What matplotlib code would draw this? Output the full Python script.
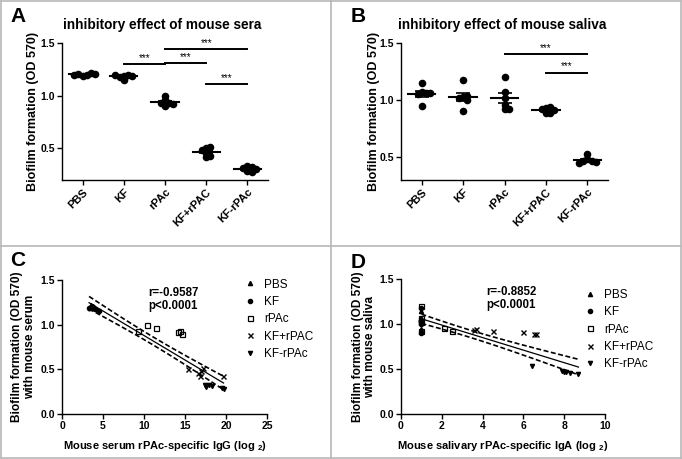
import numpy as np
import matplotlib
matplotlib.use("Agg")
import matplotlib.pyplot as plt
from matplotlib.lines import Line2D

plt.rcParams['font.family'] = ['Liberation Sans', 'DejaVu Sans']
plt.rcParams['font.weight'] = 'bold'
plt.rcParams['axes.titleweight'] = 'bold'
plt.rcParams['axes.labelweight'] = 'bold'
plt.rcParams['mathtext.default'] = 'regular'

W, H = 682, 459

# --- dane ---
grupy = ["PBS", "KF", "rPAc", "KF+rPAC", "KF-rPAc"]

# A: biofilm z surowica
sera_od = [
    [1.19, 1.20, 1.21, 1.22, 1.20, 1.21],
    [1.19, 1.20, 1.15, 1.18, 1.19, 1.20],
    [1.00, 0.96, 0.93, 0.93, 0.90, 0.92],
    [0.50, 0.51, 0.48, 0.46, 0.42, 0.43],
    [0.33, 0.32, 0.31, 0.30, 0.29, 0.28],
]
sera_sig = [(1, 2, 1.30), (2, 3, 1.31), (2, 4, 1.44), (3, 4, 1.11)]

# B: biofilm ze slina
saliva_od = [
    [1.15, 1.07, 1.06, 1.05, 1.06, 0.95],
    [1.18, 1.03, 1.00, 1.04, 1.02, 0.90],
    [1.20, 1.07, 1.02, 0.96, 0.92, 0.92],
    [0.93, 0.94, 0.92, 0.91, 0.89, 0.89],
    [0.53, 0.48, 0.47, 0.47, 0.46, 0.45],
]
saliva_sig = [(2, 4, 1.40), (3, 4, 1.24)]

# C: IgG w surowicy (log2), te same myszy co w A
serum_igg = [
    [3.4, 3.6, 3.8, 3.5, 3.9, 3.7],
    [3.3, 3.6, 4.5, 4.0, 3.8, 3.5],
    [10.4, 11.5, 9.3, 14.4, 14.6, 14.2],
    [15.4, 17.2, 16.9, 16.6, 16.8, 19.6],
    [17.9, 17.4, 18.3, 17.6, 19.5, 19.7],
]
serum_r = "r=-0.9587\np<0.0001"

# D: IgA w slinie (log2), te same myszy co w B
saliva_iga = [
    [1.0, 1.0, 1.0, 1.0, 1.0, 1.0],
    [1.0, 1.0, 1.0, 1.0, 1.0, 1.0],
    [1.0, 1.0, 1.0, 2.1, 2.5, 1.0],
    [3.6, 3.7, 4.5, 6.0, 6.5, 6.6],
    [6.4, 7.9, 8.0, 8.1, 8.3, 8.7],
]
saliva_r = "r=-0.8852\np<0.0001"

markery = ['^', 'o', 's', 'x', 'v']


def px_axes(l, t, r, b):
    return [l / W, 1 - b / H, (r - l) / W, (b - t) / H]


def styl(ax):
    for s in ['top', 'right']:
        ax.spines[s].set_visible(False)
    for s in ['left', 'bottom']:
        ax.spines[s].set_linewidth(1.0)
    ax.tick_params(direction='out', length=3.5, width=1.0, labelsize=7.5, pad=1.5)


def pogrub(ax):
    for t in ax.get_xticklabels() + ax.get_yticklabels():
        t.set_fontweight('bold')


def rozrzut(ax, xc, ys, krok=4.2):
    # prosty beeswarm liczony w pikselach
    p0 = ax.transData.transform((0, 0))
    p1 = ax.transData.transform((1, 1))
    sx, sy = p1[0] - p0[0], p1[1] - p0[1]
    placed = []
    xs = []
    for y in ys:
        py = y * sy
        k = 0
        while True:
            off = ((k + 1) // 2) * (1 if k % 2 else -1) * krok if k else 0.0
            if all((off - ox) ** 2 + (py - oy) ** 2 >= krok ** 2 * 0.98 for ox, oy in placed):
                break
            k += 1
        placed.append((off, py))
        xs.append(xc + off / sx)
    return xs


def kropki(ax, dane, ylim, ticks, sig, tytul, tx):
    ax.set_xlim(-0.5, len(grupy) - 0.5)
    ax.set_ylim(*ylim)
    styl(ax)
    ax.set_yticks(ticks)
    ax.set_yticklabels([f"{t:.1f}" for t in ticks])
    ax.set_xticks(range(len(grupy)))
    ax.set_xticklabels(grupy, rotation=45, ha='right', rotation_mode='anchor', fontsize=8)
    pogrub(ax)
    for i, ys in enumerate(dane):
        ys = np.array(ys)
        xs = rozrzut(ax, i, ys)
        ax.scatter(xs, ys, s=30, color='black', zorder=3, linewidths=0)
        m = ys.mean()
        sem = ys.std(ddof=1) / np.sqrt(len(ys))
        ax.plot([i - 0.33, i + 0.33], [m, m], color='black', lw=1.5, zorder=4)
        ax.errorbar(i, m, yerr=sem, color='black', capsize=5, lw=1.2, capthick=1.2, zorder=4)
    for a, b, h in sig:
        ax.plot([a, b], [h, h], color='black', lw=1.4, clip_on=False)
        ax.text((a + b) / 2, h + 0.01, "***", ha='center', va='bottom', fontsize=7,
                fontweight='normal')
    ax.set_ylabel("Biofilm formation (OD 570)", fontsize=9, fontweight='bold')
    ax.set_title(tytul, fontsize=9.8, x=tx, pad=10, fontweight='bold')


def korelacja(ax, xdane, ydane, xlim, xticks, xlab, ylab, rtxt, leg_xy):
    ax.set_xlim(*xlim)
    ax.set_ylim(0, 1.5)
    styl(ax)
    ax.set_xticks(xticks)
    ax.set_yticks([0, 0.5, 1.0, 1.5])
    ax.set_yticklabels(["0.0", "0.5", "1.0", "1.5"])
    pogrub(ax)
    for g, m, xs, ys in zip(grupy, markery, xdane, ydane):
        if m == 's':
            ax.plot(xs, ys, m, ms=3.6, mfc='none', mec='black', mew=0.9, ls='none', label=g)
        elif m == 'x':
            ax.plot(xs, ys, m, ms=3.6, color='black', mew=1.0, ls='none', label=g)
        else:
            ax.plot(xs, ys, m, ms=3.0, color='black', ls='none', label=g)
    x = np.concatenate([np.array(v, float) for v in xdane])
    y = np.concatenate([np.array(v, float) for v in ydane])
    n = len(x)
    b, a = np.polyfit(x, y, 1)
    res = y - (a + b * x)
    s = np.sqrt((res ** 2).sum() / (n - 2))
    sxx = ((x - x.mean()) ** 2).sum()
    xx = np.linspace(x.min(), x.max(), 100)
    yy = a + b * xx
    ci = 2.048 * s * np.sqrt(1 / n + (xx - x.mean()) ** 2 / sxx)
    ax.plot(xx, yy, color='black', lw=0.9)
    ax.plot(xx, yy + ci, color='black', lw=1.2, ls=(0, (3, 1.5)))
    ax.plot(xx, yy - ci, color='black', lw=1.2, ls=(0, (3, 1.5)))
    ax.text(0.42, 0.95, rtxt, transform=ax.transAxes, fontsize=8.3, va='top', ha='left',
            linespacing=1.1, fontweight='bold')
    ax.set_xlabel(xlab, fontsize=8, labelpad=6, fontweight='bold')
    ax.set_ylabel(ylab, fontsize=8.6, linespacing=1.1, fontweight='bold')
    leg = ax.legend(loc='upper left', bbox_to_anchor=leg_xy, frameon=False,
                    handlelength=1.0, handletextpad=0.7, labelspacing=0.45,
                    prop={'weight': 'normal', 'size': 8.5})
    return leg


fig = plt.figure(figsize=(W / 100, H / 100), dpi=100)

axA = fig.add_axes(px_axes(62, 43, 268, 180))
kropki(axA, sera_od, (0.2, 1.5), [0.5, 1.0, 1.5], sera_sig,
       "inhibitory effect of mouse sera", 0.485)
axA.yaxis.set_label_coords(-0.11, 0.5)

axB = fig.add_axes(px_axes(401, 43, 608, 180))
kropki(axB, saliva_od, (0.3, 1.5), [0.5, 1.0, 1.5], saliva_sig,
       "inhibitory effect of mouse saliva", 0.49)
axB.yaxis.set_label_coords(-0.10, 0.5)

axC = fig.add_axes(px_axes(62, 280, 267, 414))
korelacja(axC, serum_igg, sera_od, (0, 25), [0, 5, 10, 15, 20, 25],
          "Mouse serum rPAc-specific IgG (log $_2$)",
          "Biofilm formation (OD 570)\nwith mouse serum", serum_r, (0.835, 1.09))
axC.yaxis.set_label_coords(-0.125, 0.5)

axD = fig.add_axes(px_axes(401, 279, 605, 414))
korelacja(axD, saliva_iga, saliva_od, (0, 10), [0, 2, 4, 6, 8, 10],
          "Mouse salivary rPAc-specific IgA (log $_2$)",
          "Biofilm formation (OD 570)\nwith mouse saliva", saliva_r, (0.845, 1.005))
axD.yaxis.set_label_coords(-0.12, 0.5)

# litery paneli
for lit, x, y in [("A", 10, 17), ("B", 351, 17), ("C", 10, 261), ("D", 351, 262)]:
    fig.text(x / W, 1 - y / H, lit, fontsize=15, fontweight='bold', va='center', ha='left')

# szare ramki
kol = '#b8b8b8'
for (x0, y0, x1, y1) in [(0.5, 0.5, 680.5, 0.5), (0.5, 458, 680.5, 458), (0.5, 0.5, 0.5, 458),
                         (680.5, 0.5, 680.5, 458), (330.5, 0.5, 330.5, 458),
                         (0.5, 245.5, 680.5, 245.5)]:
    fig.add_artist(Line2D([x0 / W, x1 / W], [1 - y0 / H, 1 - y1 / H], transform=fig.transFigure,
                          color=kol, lw=1.2))

fig.savefig("out.png", dpi=100)
